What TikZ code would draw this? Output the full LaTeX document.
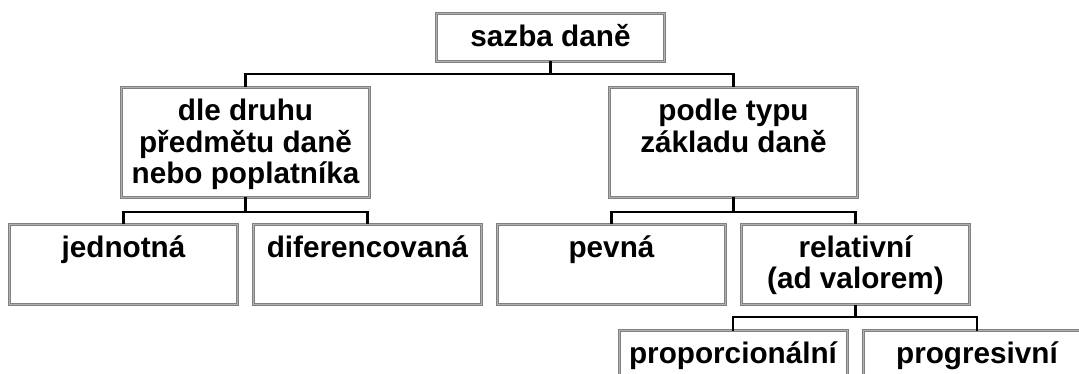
\documentclass[tikz,border=0pt]{standalone}
\usepackage{fontspec}
\setmainfont{Liberation Sans}
\usepackage{tikz}
\usetikzlibrary{positioning}
\newcommand{\boxtext}[3]{\parbox[c][#2][t]{#1}{\centering\vspace{11pt}\strut#3}}

\begin{document}
\begin{tikzpicture}[x=1pt, y=-1pt, node distance=16pt,
		taxbox/.style={draw=black!50, double=black!30, double distance=1pt, line width=1pt, inner sep=0pt, outer sep=0pt, font=\bfseries\fontsize{29.7}{31}\selectfont},
		branch/.style={line width=2.7pt}]
		\clip (0,0) rectangle (1079,374);
		\fill[white] (0,0) rectangle (1079,374);
		\node[taxbox] (sazba) at (550.5,37.5) {\boxtext{228pt}{48pt}{sazba daně}};
		\node[taxbox] (druh) at (245.5,142.5) {\boxtext{248pt}{110pt}{dle druhu\\předmětu daně\\nebo poplatníka}};
		\node[taxbox] (typ) at (733.5,142.5) {\boxtext{248pt}{110pt}{podle typu\\základu daně}};
		\node[taxbox] (jedn) at (123.5,264.5) {\boxtext{228pt}{80pt}{jednotná}};
		\node[taxbox, right=of jedn] (dif) {\boxtext{228pt}{80pt}{diferencovaná}};
		\node[taxbox, right=of dif] (pevna) {\boxtext{228pt}{80pt}{pevná}};
		\node[taxbox, right=of pevna] (rel) {\boxtext{228pt}{80pt}{relativní\\(ad valorem)}};
		\node[taxbox] (prop) at (733,370.5) {\boxtext{228pt}{80pt}{proporcionální}};
		\node[taxbox, right=of prop] (prog) {\boxtext{228pt}{80pt}{progresivní}};
		\coordinate (bar1) at (0,74);
		\coordinate (bar2) at (0,212);
		\coordinate (bar3) at (0,317);
		\draw[branch]
			(sazba.south) -- (sazba.south |- bar1)
			(druh.north) |- (typ.north |- bar1) -- (typ.north)
			(druh.south) -- (druh.south |- bar2)
			(jedn.north) |- (dif.north |- bar2) -- (dif.north)
			(typ.south) -- (typ.south |- bar2)
			(pevna.north) |- (rel.north |- bar2) -- (rel.north)
			(rel.south) -- (rel.south |- bar3)
			(prop.north) |- (prog.north |- bar3) -- (prog.north);
	\end{tikzpicture}
\end{document}
